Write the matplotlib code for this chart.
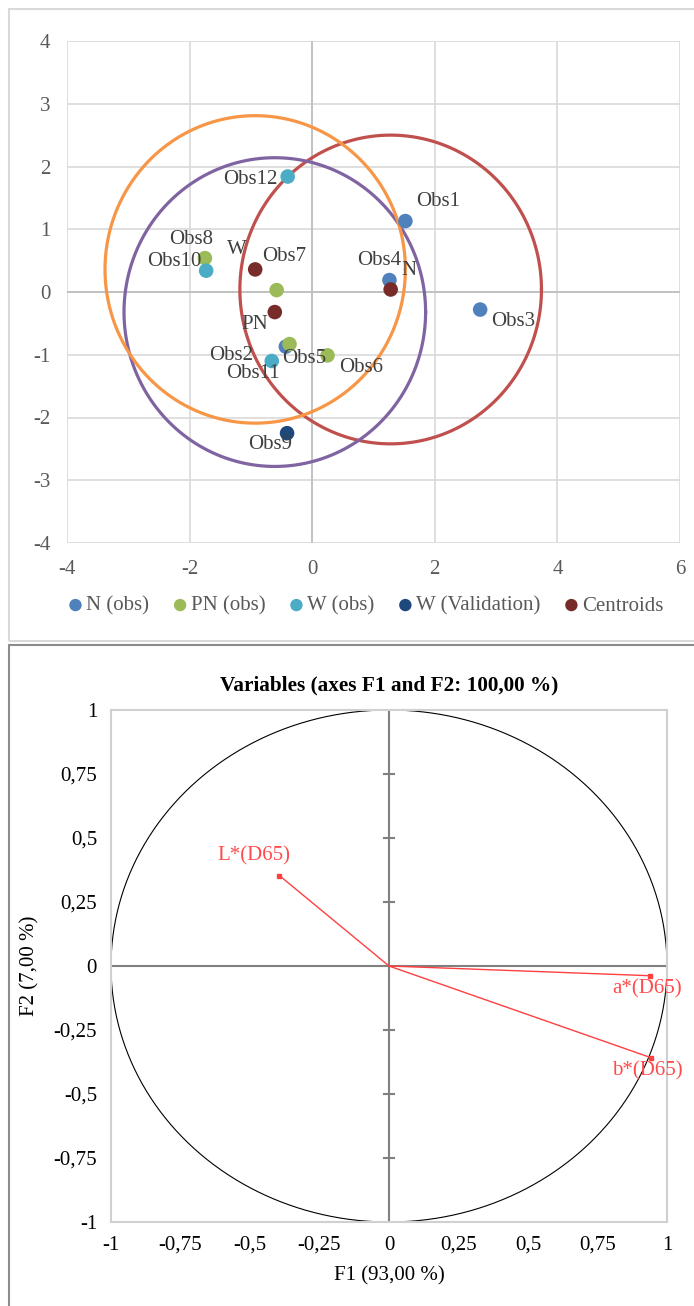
import numpy as np
import matplotlib.pyplot as plt
from matplotlib.patches import Rectangle

plt.rcParams['font.family'] = ['Liberation Serif', 'DejaVu Serif']
plt.rcParams['axes.unicode_minus'] = False

# --- top chart: observations ---
n_names = ['Obs1', 'Obs2', 'Obs3', 'Obs4']
n_x = [1.52, -0.43, 2.74, 1.26]
n_y = [1.13, -0.87, -0.28, 0.19]

pn_names = ['Obs5', 'Obs6', 'Obs7', 'Obs8']
pn_x = [-0.37, 0.25, -0.58, -1.75]
pn_y = [-0.83, -1.01, 0.03, 0.54]

w_names = ['Obs10', 'Obs11', 'Obs12']
w_x = [-1.73, -0.66, -0.40]
w_y = [0.34, -1.10, 1.84]

val_names = ['Obs9']
val_x = [-0.41]
val_y = [-2.25]

cent_names = ['N', 'PN', 'W']
cent_x = [1.28, -0.61, -0.93]
cent_y = [0.04, -0.32, 0.36]
circle_r = [2.46, 2.46, 2.45]

# --- bottom chart: variables ---
var_names = ['L*(D65)', 'a*(D65)', 'b*(D65)']
var_f1 = [-0.394, 0.939, 0.942]
var_f2 = [0.353, -0.038, -0.358]

# label offsets (points)
offs = {
    'Obs1': (23.6, 13.8), 'Obs2': (-39.5, -6.5), 'Obs3': (23.6, -8.8),
    'Obs4': (-7.3, 14.4), 'Obs5': (10.8, -10.6), 'Obs6': (24.2, -8.8),
    'Obs7': (5.4, 24), 'Obs8': (-9.9, 13.5), 'Obs9': (-12.1, -8.5),
    'Obs10': (-23, 6.5), 'Obs11': (-13.4, -9.1), 'Obs12': (-26.8, -2.1),
    'N': (13.4, 13.5), 'PN': (-14.3, -9.1), 'W': (-13, 14.4),
    'L*(D65)': (-18.5, 14), 'a*(D65)': (-1.9, -9.2), 'b*(D65)': (-2.5, -9.8),
}

FS = 15

fig = plt.figure(figsize=(6.94, 13.06), dpi=100)

# panel frames
fig.patches.append(Rectangle((9/694, 1-641/1306), 690/694, 632/1306, transform=fig.transFigure,
                             fill=False, edgecolor='#d9d9d9', linewidth=1.5))
fig.patches.append(Rectangle((9/694, -0.01), 690/694, 1-645/1306+0.01, transform=fig.transFigure,
                             fill=False, edgecolor='#8c8c8c', linewidth=1.5))

ax = fig.add_axes([67/694, 1-543/1306, 613/694, 502/1306])
ax.set_xlim(-4, 6)
ax.set_ylim(-4, 4)
ax.set_xticks(range(-4, 7, 2))
ax.set_yticks(range(-4, 5))
for s in ax.spines.values():
    s.set_visible(False)
ax.grid(True, color='#d9d9d9', linewidth=1.2)
ax.set_axisbelow(True)
ax.axhline(0, color='#bfbfbf', linewidth=1.3, zorder=1)
ax.axvline(0, color='#bfbfbf', linewidth=1.3, zorder=1)
ax.tick_params(length=0, labelsize=FS, labelcolor='#595959', pad=12)

t = np.linspace(0, 2*np.pi, 400)
for cx, cy, r, c in zip(cent_x, cent_y, circle_r, ['#c0504d', '#8064a2', '#f79646']):
    ax.plot(cx + r*np.cos(t), cy + r*np.sin(t), color=c, linewidth=2.3, zorder=2)

groups = [
    (n_names, n_x, n_y, '#4f81bd', 'N (obs)'),
    (pn_names, pn_x, pn_y, '#9bbb59', 'PN (obs)'),
    (w_names, w_x, w_y, '#4bacc6', 'W (obs)'),
    (val_names, val_x, val_y, '#1f497d', 'W (Validation)'),
    (cent_names, cent_x, cent_y, '#772c2a', 'Centroids'),
]
for names, xs, ys, c, lab in groups:
    ax.scatter(xs, ys, s=110, color=c, label=lab, zorder=3, edgecolors='none')
    for nm, x, y in zip(names, xs, ys):
        ax.annotate(nm, (x, y), xytext=offs[nm], textcoords='offset points',
                    ha='center', va='center', fontsize=FS, color='#404040', zorder=4)

ax.legend(loc='center', bbox_to_anchor=(0.483, -0.125), ncol=5, frameon=False,
          fontsize=FS, labelcolor='#595959', handletextpad=-0.1, columnspacing=0.9,
          handlelength=1.2, markerscale=0.85, borderaxespad=0)

# --- bottom chart ---
ax2 = fig.add_axes([111/694, 1-1222/1306, 556/694, 512/1306])
ax2.set_xlim(-1, 1)
ax2.set_ylim(-1, 1)
ticks = [-1, -0.75, -0.5, -0.25, 0, 0.25, 0.5, 0.75, 1]
tick_lbl = ['-1', '-0,75', '-0,5', '-0,25', '0', '0,25', '0,5', '0,75', '1']
ax2.set_xticks(ticks, tick_lbl)
ax2.set_yticks(ticks, tick_lbl)
ax2.tick_params(length=0, labelsize=FS, labelcolor='#000000', pad=10)
for s in ax2.spines.values():
    s.set_color('#d0d0d0')
    s.set_linewidth(1.5)
ax2.axhline(0, color='#808080', linewidth=1.5, zorder=1)
ax2.axvline(0, color='#808080', linewidth=1.5, zorder=1)
for v in ticks[1:-1]:
    if v != 0:
        ax2.plot([-0.018, 0.018], [v, v], color='#808080', linewidth=1.5, zorder=1)
ax2.plot(np.cos(t), np.sin(t), color='black', linewidth=0.8, zorder=2)
for nm, x, y in zip(var_names, var_f1, var_f2):
    ax2.plot([0, x], [0, y], color='#ff4040', linewidth=1.0, zorder=3)
    ax2.plot([x], [y], marker='s', markersize=3, color='#ff4040', zorder=3)
    ax2.annotate(nm, (x, y), xytext=offs[nm], textcoords='offset points',
                 ha='center', va='center', fontsize=FS, color='#ff4b4b', zorder=4)
ax2.set_title('Variables (axes F1 and F2: 100,00 %)', fontsize=15.3, fontweight='bold', pad=14)
ax2.set_xlabel('F1 (93,00 %)', fontsize=FS, labelpad=8)
ax2.set_ylabel('F2 (7,00 %)', fontsize=FS, labelpad=10)

fig.savefig('out.png', dpi=100)
